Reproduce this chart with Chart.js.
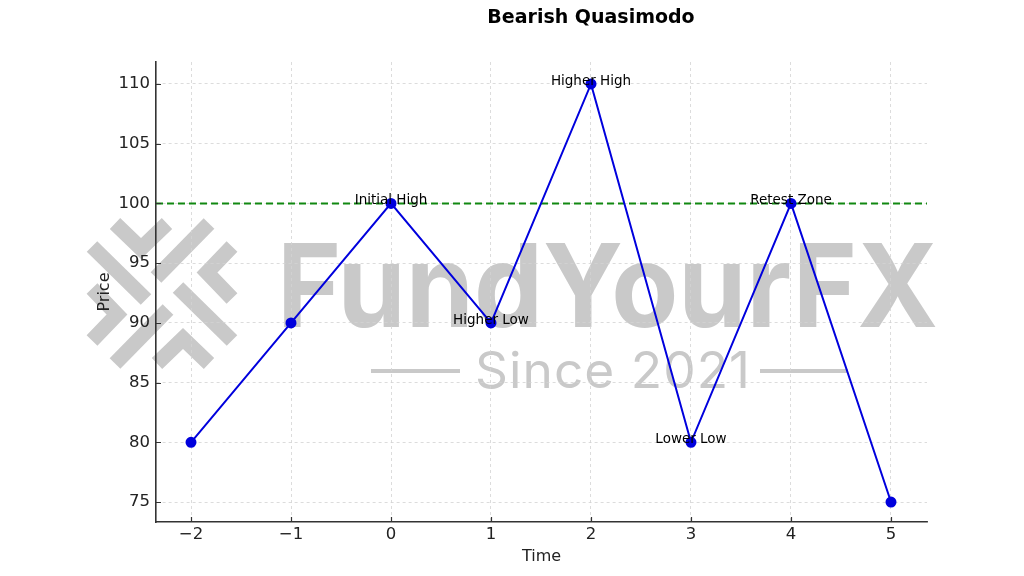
<!DOCTYPE html>
<html>
<head>
<meta charset="utf-8">
<title>Bearish Quasimodo</title>
<script src="https://cdn.jsdelivr.net/npm/chart.js@4"></script>
<style>
  html, body { margin: 0; padding: 0; background: #ffffff; }
  #wrap { width: 1024px; height: 576px; }
</style>
</head>
<body>
<div id="wrap"><canvas id="chart-1" width="1024" height="576"></canvas></div>
<script>
/************************ data *********************************/
const timeValues = [-2, -1, 0, 1, 2, 3, 4, 5];
const priceValues = [80, 90, 100, 90, 110, 80, 100, 75];
const pointLabels = ["", "", "Initial High", "Higher Low", "Higher High", "Lower Low", "Retest Zone", ""];
const xTicks = [-2, -1, 0, 1, 2, 3, 4, 5];
const yTicks = [75, 80, 85, 90, 95, 100, 105, 110];
const retestLevel = 100;
const chartTitle = "Bearish Quasimodo";

const FONT = "'DejaVu Sans', sans-serif";

function fmt(v) {
  return String(v).replace("-", "\u2212");
}

// watermark behind everything (logo + FundYourFX / Since 2021)
const watermarkPlugin = {
  id: "watermark",
  beforeDraw(chart) {
    const ctx = chart.ctx;
    ctx.save();
    ctx.fillStyle = "#c9c9c9";
    ctx.strokeStyle = "#c9c9c9";

    // pinwheel logo, same piece rotated four times
    const cx = 162, cy = 293.5;
    ctx.lineWidth = 15;
    ctx.lineCap = "butt";
    ctx.lineJoin = "miter";
    for (let k = 0; k < 4; k++) {
      ctx.save();
      ctx.translate(cx, cy);
      ctx.rotate(k * Math.PI / 2);
      ctx.beginPath();
      ctx.moveTo(-47, -70);
      ctx.lineTo(-21, -45);
      ctx.lineTo(5, -70);
      ctx.stroke();
      ctx.beginPath();
      ctx.moveTo(-70, -47);
      ctx.lineTo(-16, 6);
      ctx.stroke();
      ctx.restore();
    }

    // big brand text
    ctx.textBaseline = "alphabetic";
    ctx.textAlign = "left";
    ctx.font = "bold 116px Inter, 'Open Sans', sans-serif";
    let w = ctx.measureText("FundYourFX").width;
    ctx.save();
    ctx.translate(277, 327);
    ctx.scale(661 / w, 1);
    ctx.fillText("FundYourFX", 0, 0);
    ctx.restore();

    // Since 2021
    ctx.font = "50px Inter, 'Open Sans', sans-serif";
    if ("letterSpacing" in ctx) ctx.letterSpacing = "1px";
    w = ctx.measureText("Since 2021").width;
    ctx.save();
    ctx.translate(475, 388);
    ctx.scale(276 / w, 1);
    ctx.fillText("Since 2021", 0, 0);
    ctx.restore();
    if ("letterSpacing" in ctx) ctx.letterSpacing = "0px";

    ctx.fillRect(371, 369, 89, 4);
    ctx.fillRect(760, 369, 88, 4);
    ctx.restore();
  },
};

// horizontal level, inward ticks, title, point annotations
const overlayPlugin = {
  id: "overlay",
  beforeDatasetsDraw(chart) {
    const { ctx, chartArea, scales } = chart;
    const y = scales.y.getPixelForValue(retestLevel);
    ctx.save();
    ctx.strokeStyle = "#118811";
    ctx.lineWidth = 2;
    ctx.setLineDash([7, 4]);
    ctx.beginPath();
    ctx.moveTo(chartArea.left, y);
    ctx.lineTo(chartArea.right, y);
    ctx.stroke();
    ctx.restore();
  },
  afterDatasetsDraw(chart) {
    const { ctx, chartArea, scales } = chart;
    ctx.save();
    // inward tick marks
    ctx.strokeStyle = "#333333";
    ctx.lineWidth = 1.2;
    ctx.beginPath();
    xTicks.forEach((v) => {
      const px = Math.round(scales.x.getPixelForValue(v)) + 0.5;
      ctx.moveTo(px, chartArea.bottom);
      ctx.lineTo(px, chartArea.bottom - 5);
    });
    yTicks.forEach((v) => {
      const py = Math.round(scales.y.getPixelForValue(v)) + 0.5;
      ctx.moveTo(chartArea.left, py);
      ctx.lineTo(chartArea.left + 5, py);
    });
    ctx.stroke();

    // annotations
    ctx.fillStyle = "#000000";
    ctx.font = "13.5px " + FONT;
    ctx.textAlign = "center";
    ctx.textBaseline = "alphabetic";
    pointLabels.forEach((txt, i) => {
      if (!txt) return;
      const px = scales.x.getPixelForValue(timeValues[i]);
      const py = scales.y.getPixelForValue(priceValues[i]);
      ctx.fillText(txt, px, py + 1);
    });

    // title
    ctx.font = "bold 19px " + FONT;
    ctx.textBaseline = "middle";
    ctx.fillText(chartTitle, 591, 18);
    ctx.restore();
  },
};

const ctxA = document.getElementById("chart-1").getContext("2d");
const myChart1 = new Chart(ctxA, {
  type: "scatter",
  data: {
    datasets: [
      {
        label: "Price",
        data: timeValues.map((t, i) => ({ x: t, y: priceValues[i] })),
        showLine: true,
        borderColor: "#0000dd",
        backgroundColor: "#0000dd",
        borderWidth: 2,
        pointRadius: 4.5,
        pointHoverRadius: 4.5,
        tension: 0,
      },
    ],
  },
  options: {
    responsive: false,
    devicePixelRatio: 1,
    animation: false,
    layout: {
      padding: { left: 0, right: 97, top: 62, bottom: 0 },
    },
    plugins: {
      legend: { display: false },
      tooltip: { enabled: false },
      title: { display: false },
    },
    scales: {
      x: {
        type: "linear",
        min: -2.35,
        max: 5.36,
        afterBuildTicks: (scale) => {
          scale.ticks = xTicks.map((v) => ({ value: v }));
        },
        afterFit: (scale) => {
          scale.height = 54;
        },
        ticks: {
          color: "#222222",
          font: { family: FONT, size: 16.5 },
          padding: 3,
          maxRotation: 0,
          callback: (v) => fmt(v),
        },
        grid: {
          color: "#d4d4d4",
          lineWidth: 0.8,
          drawTicks: false,
        },
        border: {
          display: true,
          color: "#333333",
          width: 1.6,
          dash: [3, 3],
        },
        title: {
          display: true,
          text: "Time",
          color: "#222222",
          font: { family: FONT, size: 16 },
          padding: { top: 0, bottom: 10 },
        },
      },
      y: {
        type: "linear",
        min: 73.33,
        max: 111.84,
        afterBuildTicks: (scale) => {
          scale.ticks = yTicks.map((v) => ({ value: v }));
        },
        afterFit: (scale) => {
          scale.width = 156;
        },
        ticks: {
          color: "#222222",
          font: { family: FONT, size: 16.5 },
          padding: 6,
          callback: (v) => fmt(v),
        },
        grid: {
          color: "#d4d4d4",
          lineWidth: 0.8,
          drawTicks: false,
        },
        border: {
          display: true,
          color: "#333333",
          width: 1.6,
          dash: [3, 3],
        },
        title: {
          display: true,
          text: "Price",
          color: "#222222",
          font: { family: FONT, size: 16 },
          padding: { top: 95, bottom: 0 },
        },
      },
    },
  },
  plugins: [watermarkPlugin, overlayPlugin],
});
</script>
</body>
</html>
